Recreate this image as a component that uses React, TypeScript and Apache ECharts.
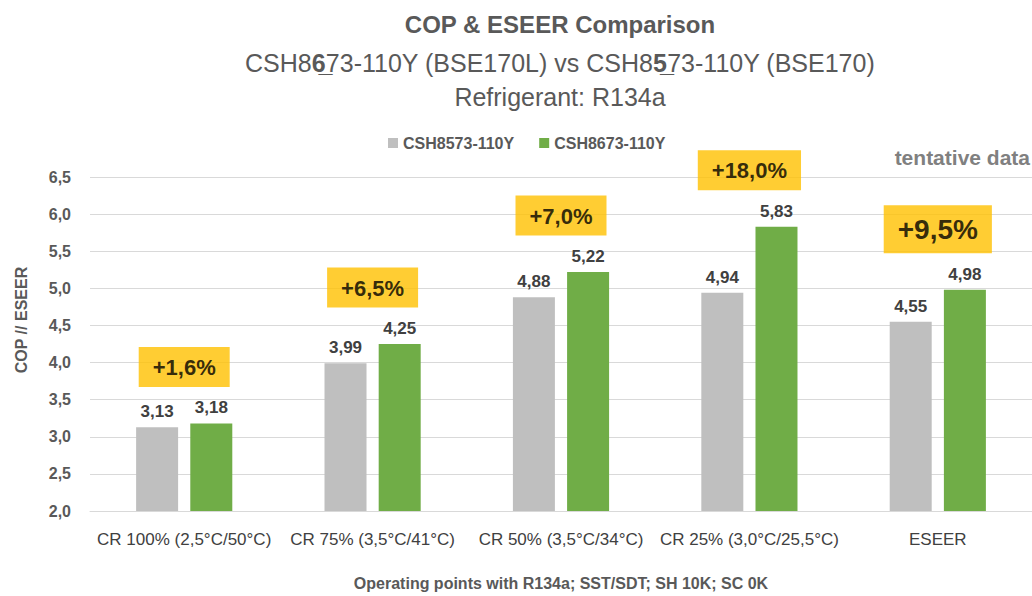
import React, { useEffect, useRef } from 'react';
import * as echarts from 'echarts';

const categories = [
  'CR 100% (2,5°C/50°C)',
  'CR 75% (3,5°C/41°C)',
  'CR 50% (3,5°C/34°C)',
  'CR 25% (3,0°C/25,5°C)',
  'ESEER',
];
const seriesNames = ['CSH8573-110Y', 'CSH8673-110Y'];
const csh8573 = [3.13, 3.99, 4.88, 4.94, 4.55];
const csh8673 = [3.18, 4.25, 5.22, 5.83, 4.98];
const improvement = ['+1,6%', '+6,5%', '+7,0%', '+18,0%', '+9,5%'];
const yMin = 2.0;
const yMax = 6.5;
const yStep = 0.5;

const FONT = "'Liberation Sans', Arial, sans-serif";
const GREY_TXT = '#595959';
const DARK_TXT = '#404040';

const comma = (v: number, d: number) => v.toFixed(d).replace('.', ',');

export default function App() {
  const ref = useRef<HTMLDivElement>(null);
  useEffect(() => {
    if (!ref.current) return;
    const chart = echarts.init(ref.current, null, { renderer: 'svg' });
    const barLabel = {
      show: true,
      position: 'top',
      distance: 7,
      fontSize: 17,
      fontWeight: 'bold',
      fontFamily: FONT,
      color: DARK_TXT,
      formatter: (p: any) => comma(p.value, 2),
    };
    const option: any = {
      animation: false,
      backgroundColor: '#ffffff',
      textStyle: { fontFamily: FONT },
      legend: {
        data: seriesNames,
        left: 383,
        top: 129,
        icon: 'rect',
        itemWidth: 10,
        itemHeight: 10,
        itemGap: 25,
        textStyle: { fontSize: 16, fontWeight: 'bold', color: GREY_TXT, fontFamily: FONT, lineHeight: 18 },
      },
      grid: { left: 90, right: -5.5, top: 177, bottom: 79, containLabel: false },
      xAxis: {
        type: 'category',
        data: categories,
        axisLine: { show: true, lineStyle: { color: '#D9D9D9', width: 1 } },
        axisTick: { show: false },
        axisLabel: { interval: 0, fontSize: 17, color: DARK_TXT, fontFamily: FONT, margin: 20 },
        name: 'Operating points with R134a; SST/SDT; SH 10K; SC 0K',
        nameLocation: 'middle',
        nameGap: 64,
        nameTextStyle: { fontSize: 16, fontWeight: 'bold', color: GREY_TXT, fontFamily: FONT },
      },
      yAxis: {
        type: 'value',
        min: yMin,
        max: yMax,
        interval: yStep,
        axisLine: { show: false },
        axisTick: { show: false },
        splitLine: { lineStyle: { color: '#D9D9D9', width: 1 } },
        axisLabel: {
          fontSize: 16,
          fontWeight: 'bold',
          color: GREY_TXT,
          fontFamily: FONT,
          margin: 19,
          formatter: (v: number) => comma(v, 1),
        },
      },
      series: [
        {
          name: seriesNames[0],
          type: 'bar',
          data: csh8573,
          barWidth: 42,
          barGap: '29%',
          itemStyle: { color: '#BFBFBF' },
          label: barLabel,
        },
        {
          name: seriesNames[1],
          type: 'bar',
          data: csh8673,
          barWidth: 42,
          barGap: '29%',
          itemStyle: { color: '#70AD47' },
          label: barLabel,
        },
        {
          name: 'improvement',
          type: 'scatter',
          z: 5,
          symbol: 'rect',
          symbolSize: 1,
          itemStyle: { color: 'rgba(0,0,0,0)' },
          data: csh8673.map((v, i) =>
            i === categories.length - 1
              ? { value: v, label: { fontSize: 28, lineHeight: 31, padding: [9, 14, 8, 14] } }
              : { value: v }
          ),
          label: {
            show: true,
            position: 'top',
            distance: 36,
            backgroundColor: '#FFC000',
            padding: [8, 14, 7, 14],
            fontSize: 22,
            lineHeight: 25,
            fontWeight: 'bold',
            fontFamily: FONT,
            color: '#000000',
            formatter: (p: any) => improvement[p.dataIndex],
          },
          tooltip: { show: false },
        },
      ],
      graphic: [
        {
          type: 'text',
          x: 560,
          y: 24,
          style: {
            text: 'COP & ESEER Comparison',
            fill: GREY_TXT,
            fontSize: 24,
            fontWeight: 'bold',
            fontFamily: FONT,
            align: 'center',
            verticalAlign: 'middle',
          },
        },
        {
          type: 'text',
          x: 560,
          y: 63,
          style: {
            text: 'CSH8{u|6\u0332}73-110Y (BSE170L) vs CSH8{u|5\u0332}73-110Y (BSE170)',
            fill: GREY_TXT,
            fontSize: 25,
            fontFamily: FONT,
            align: 'center',
            verticalAlign: 'middle',
            rich: {
              u: { fontSize: 25, fontWeight: 'bold', fontFamily: FONT, fill: GREY_TXT },
            },
          },
        },
        {
          type: 'text',
          x: 560,
          y: 97,
          style: {
            text: 'Refrigerant: R134a',
            fill: GREY_TXT,
            fontSize: 25,
            fontFamily: FONT,
            align: 'center',
            verticalAlign: 'middle',
          },
        },
        {
          type: 'text',
          x: 1030,
          y: 157,
          style: {
            text: 'tentative data',
            fill: '#808080',
            fontSize: 21,
            fontWeight: 'bold',
            fontFamily: FONT,
            align: 'right',
            verticalAlign: 'middle',
          },
        },
        {
          type: 'text',
          x: 21,
          y: 320,
          rotation: Math.PI / 2,
          style: {
            text: 'COP // ESEER',
            fill: GREY_TXT,
            fontSize: 16,
            fontWeight: 'bold',
            fontFamily: FONT,
            align: 'center',
            verticalAlign: 'middle',
          },
        },
      ],
    };
    chart.setOption(option);
    return () => chart.dispose();
  }, []);
  return (
    <div
      ref={ref}
      style={{ position: 'absolute', left: 0, top: 0, width: 1032, height: 596, background: '#fff' }}
    />
  );
}
